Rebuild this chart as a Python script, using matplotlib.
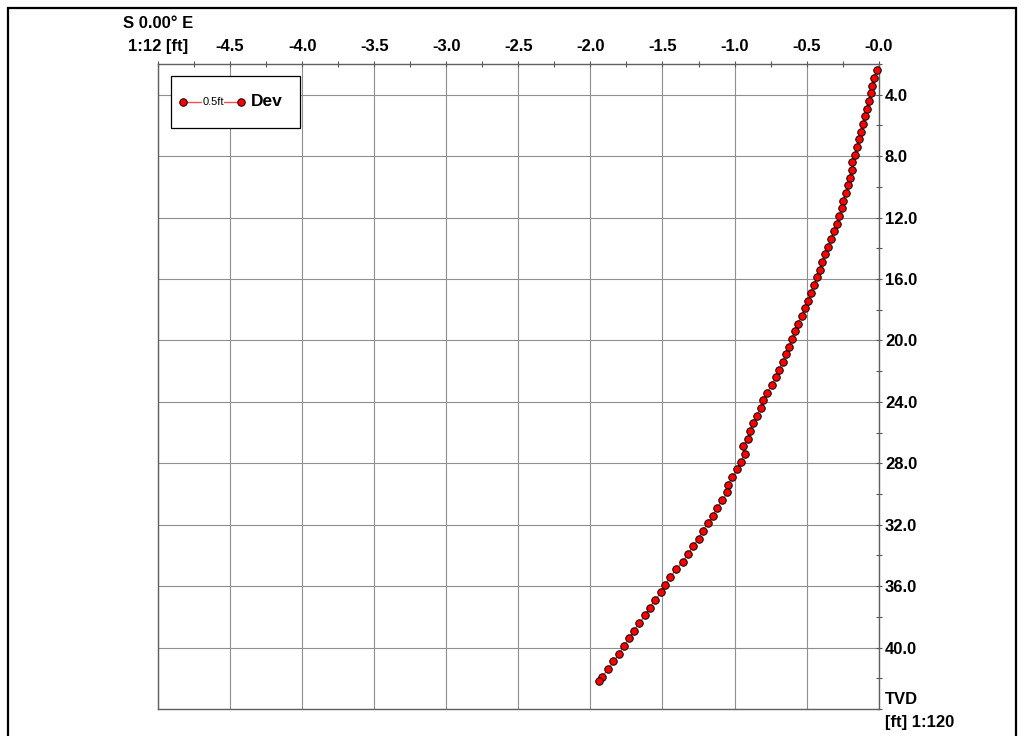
"""Deviation plot: horizontal offset (S 0.00 E section) vs TVD."""

import matplotlib

matplotlib.use("Agg")
import matplotlib.pyplot as plt
from matplotlib.lines import Line2D
from matplotlib.patches import Rectangle
from matplotlib.ticker import FuncFormatter, MultipleLocator
from matplotlib.transforms import blended_transform_factory

plt.rcParams["font.family"] = ["Liberation Sans", "DejaVu Sans"]

# survey stations, TVD [ft] and offset [ft]
tvd = [2.4, 2.9, 3.4, 3.9, 4.4, 4.9, 5.4, 5.9, 6.4, 6.9,
       7.4, 7.9, 8.4, 8.9, 9.4, 9.9, 10.4, 10.9, 11.4, 11.9,
       12.4, 12.9, 13.4, 13.9, 14.4, 14.9, 15.4, 15.9, 16.4, 16.9,
       17.4, 17.9, 18.4, 18.9, 19.4, 19.9, 20.4, 20.9, 21.4, 21.9,
       22.4, 22.9, 23.4, 23.9, 24.4, 24.9, 25.4, 25.9, 26.4, 26.9,
       27.4, 27.9, 28.4, 28.9, 29.4, 29.9, 30.4, 30.9, 31.4, 31.9,
       32.4, 32.9, 33.4, 33.9, 34.4, 34.9, 35.4, 35.9, 36.4, 36.9,
       37.4, 37.9, 38.4, 38.9, 39.4, 39.9, 40.4, 40.9, 41.4, 41.9,
       42.2]
dev = [-0.014, -0.030, -0.045, -0.056, -0.070, -0.083, -0.095, -0.107, -0.123, -0.135,
       -0.150, -0.165, -0.182, -0.188, -0.200, -0.210, -0.228, -0.245, -0.258, -0.272,
       -0.290, -0.310, -0.330, -0.350, -0.370, -0.390, -0.410, -0.430, -0.450, -0.470,
       -0.490, -0.510, -0.530, -0.560, -0.580, -0.600, -0.620, -0.645, -0.665, -0.690,
       -0.715, -0.740, -0.775, -0.800, -0.820, -0.845, -0.870, -0.895, -0.910, -0.940,
       -0.930, -0.955, -0.985, -1.015, -1.045, -1.050, -1.085, -1.120, -1.150, -1.185,
       -1.220, -1.250, -1.290, -1.320, -1.360, -1.405, -1.445, -1.480, -1.510, -1.550,
       -1.590, -1.620, -1.660, -1.700, -1.730, -1.770, -1.800, -1.840, -1.875, -1.920,
       -1.940]

W, H = 1024, 736
FS = 12
fig = plt.figure(figsize=(W / 100, H / 100), dpi=100)
ax = fig.add_axes([158 / W, 1 - 709 / H, (878.7 - 158) / W, (709 - 64) / H])

ax.plot(dev, tvd, color="#f05050", lw=0.9, marker="o", ms=5.4, mfc="red",
        mec="black", mew=0.7, zorder=3, clip_on=False)

ax.set_xlim(-5.0, 0.0)
ax.set_ylim(44, 2)
ax.xaxis.set_major_locator(MultipleLocator(0.5))
ax.xaxis.set_minor_locator(MultipleLocator(0.25))
ax.yaxis.set_major_locator(MultipleLocator(4))
ax.yaxis.set_minor_locator(MultipleLocator(2))


def xfmt(v, _):
    if abs(v + 5) < 1e-6:
        return "1:12 [ft]"
    if abs(v) < 1e-6:
        return "-0.0"
    return f"{v:.1f}"


def yfmt(v, _):
    return "" if v > 43 or v < 3 else f"{v:.1f}"


ax.xaxis.set_major_formatter(FuncFormatter(xfmt))
ax.yaxis.set_major_formatter(FuncFormatter(yfmt))
ax.tick_params(axis="x", which="both", top=True, bottom=False, labeltop=True,
               labelbottom=False, direction="inout", length=5, width=0.8,
               color="#555555", pad=5, labelsize=FS)
ax.tick_params(axis="y", which="both", right=True, left=False, labelright=True,
               labelleft=False, direction="inout", length=5, width=0.8,
               color="#555555", pad=2, labelsize=FS)
for lab in ax.get_xticklabels() + ax.get_yticklabels():
    lab.set_fontweight("bold")

ax.grid(True, which="major", color="#8f8f8f", lw=0.8)
ax.set_axisbelow(True)
for s in ax.spines.values():
    s.set_color("#606060")
    s.set_linewidth(1.0)

# header above the offset axis
tr = blended_transform_factory(ax.transData, fig.transFigure)
ax.text(-5.0, 1 - 23 / H, "S 0.00° E", transform=tr, ha="center", va="center",
        fontsize=FS, fontweight="bold")

# depth axis title
fig.text(885 / W, 1 - 699 / H, "TVD", ha="left", va="center", fontsize=FS,
         fontweight="bold")
fig.text(885 / W, 1 - 722 / H, "[ft] 1:120", ha="left", va="center",
         fontsize=FS, fontweight="bold")

# outer frame
fig.add_artist(Rectangle((8 / W, -0.05), (1016 - 8) / W, 1 - 7.5 / H + 0.05,
                         transform=fig.transFigure, fill=False, ec="black",
                         lw=1.6))

# legend
fig.add_artist(Rectangle((171 / W, 1 - 128 / H), 129 / W, 52 / H,
                         transform=fig.transFigure, fc="white", ec="black",
                         lw=0.9, zorder=5))
ly = 1 - 101.7 / H
fig.add_artist(Line2D([183.3 / W, 240.7 / W], [ly, ly], transform=fig.transFigure,
                      color="#f05050", lw=1.0, marker="o", ms=5.4, mfc="red",
                      mec="black", mew=0.7, zorder=6))
fig.text(213 / W, ly, "0.5ft", ha="center", va="center", fontsize=8,
         zorder=7, bbox=dict(fc="white", ec="none", pad=0.3))
fig.text(250.5 / W, ly, "Dev", ha="left", va="center", fontsize=12.5,
         fontweight="bold", zorder=7)

fig.savefig("out.png", dpi=100)
